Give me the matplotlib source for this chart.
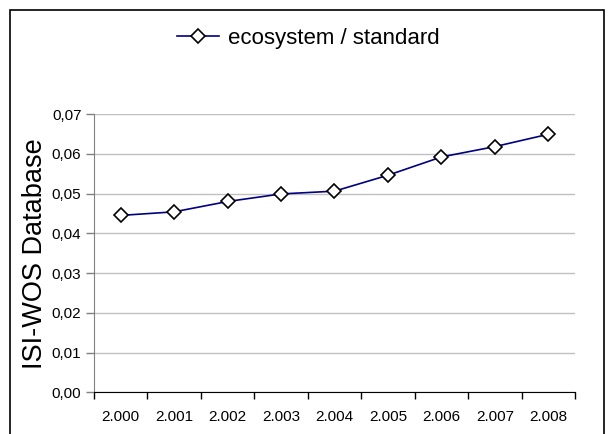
import matplotlib.pyplot as plt
from matplotlib.patches import Rectangle

plt.rcParams['font.family'] = ['Liberation Sans', 'DejaVu Sans']

years = ["2.000", "2.001", "2.002", "2.003", "2.004", "2.005", "2.006", "2.007", "2.008"]
ratio = [0.0445, 0.0454, 0.0480, 0.0499, 0.0506, 0.0546, 0.0592, 0.0618, 0.0649]
yticks = [0.00, 0.01, 0.02, 0.03, 0.04, 0.05, 0.06, 0.07]
ytick_labels = ["0,00", "0,01", "0,02", "0,03", "0,04", "0,05", "0,06", "0,07"]

fig = plt.figure(figsize=(6.08, 4.34), dpi=100)
ax = fig.add_axes([0.1546, 0.0959, 0.7911, 0.6414])

x = range(len(years))
line, = ax.plot(x, ratio, color="#000080", lw=1.2, marker="D", markersize=7,
                markerfacecolor="white", markeredgecolor="black", markeredgewidth=1.2,
                label="ecosystem / standard", zorder=3)

ax.set_xlim(-0.5, len(years) - 0.5)
ax.set_ylim(0, 0.07)
ax.set_yticks(yticks)
ax.set_yticklabels(ytick_labels, fontsize=11)
ax.set_xticks([i - 0.5 for i in range(len(years) + 1)])
ax.set_xticklabels([])
ax.set_xticks(list(x), minor=True)
ax.set_xticklabels(years, minor=True, fontsize=11)
ax.tick_params(axis="x", which="minor", length=0, pad=13)
ax.tick_params(axis="x", which="major", length=5, width=1, color="black")
ax.tick_params(axis="y", length=6, width=1, color="#808080", pad=3)

ax.grid(axis="y", color="#c0c0c0", lw=1)
ax.set_axisbelow(True)
for s in ["top", "right"]:
    ax.spines[s].set_visible(False)
ax.spines["left"].set_color("#808080")
ax.spines["bottom"].set_color("black")

ax.set_ylabel("ISI-WOS Database", fontsize=19.5, labelpad=3)

fig.legend(handles=[line], loc="center", bbox_to_anchor=(0.507, 0.912), frameon=False,
           fontsize=16, handlelength=1.9, handletextpad=0.4)

fig.patches.append(Rectangle((9.5 / 608, -0.1), 594 / 608, 1.1 - 10 / 434,
                             transform=fig.transFigure, fill=False,
                             edgecolor="black", lw=1.2))

fig.savefig("out.png", dpi=100)
